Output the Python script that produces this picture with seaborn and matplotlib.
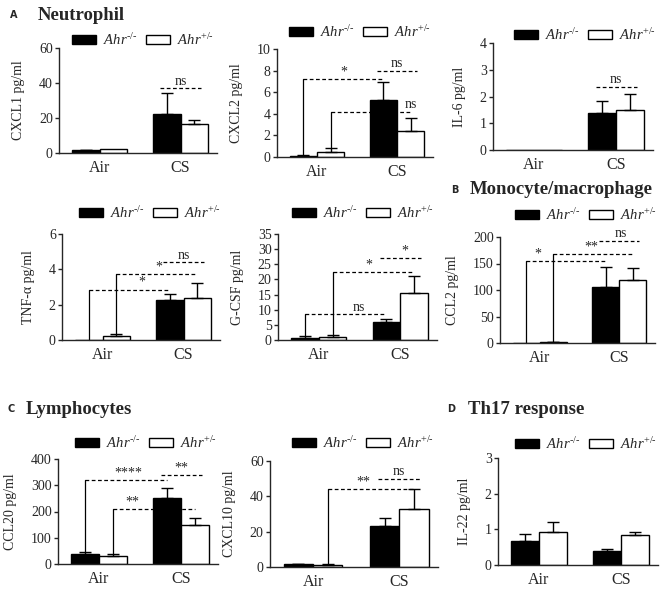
import numpy as np
import pandas as pd
import matplotlib
matplotlib.use("Agg")
import matplotlib.pyplot as plt
from matplotlib.patches import Patch
import seaborn as sns

sns.set_style("ticks")
plt.rcParams["font.family"] = ["Liberation Serif", "DejaVu Serif"]
plt.rcParams["mathtext.fontset"] = "custom"
plt.rcParams["mathtext.it"] = "Liberation Serif:italic"
plt.rcParams["mathtext.rm"] = "Liberation Serif"

exposures = ["Air", "CS"]
genotypes = ["KO", "Het"]
legend_labels = [r"$Ahr^{\text{-/-}}$", r"$Ahr^{\text{+/-}}$"]

# bar order in every list: Air KO, Air Het, CS KO, CS Het
cxcl1_mean = [1.5, 2.0, 22.0, 16.5]
cxcl1_sem = [0.4, 0.0, 12.0, 2.5]
cxcl2_mean = [0.1, 0.5, 5.3, 2.4]
cxcl2_sem = [0.1, 0.3, 1.6, 1.2]
il6_mean = [0.0, 0.0, 1.38, 1.5]
il6_sem = [0.0, 0.0, 0.44, 0.6]
tnf_mean = [0.0, 0.2, 2.25, 2.4]
tnf_sem = [0.0, 0.15, 0.35, 0.85]
gcsf_mean = [0.5, 1.1, 6.0, 15.5]
gcsf_sem = [0.7, 0.7, 1.0, 5.5]
ccl2_mean = [0.0, 1.5, 105.0, 118.0]
ccl2_sem = [0.0, 0.5, 38.0, 24.0]
ccl20_mean = [38.0, 30.0, 252.0, 150.0]
ccl20_sem = [7.0, 7.0, 36.0, 25.0]
cxcl10_mean = [1.5, 1.2, 23.0, 33.0]
cxcl10_sem = [0.3, 0.3, 5.0, 11.0]
il22_mean = [0.67, 0.92, 0.40, 0.83]
il22_sem = [0.21, 0.28, 0.06, 0.09]

# significance brackets: (from bar, to bar, level, label, label position along line)
cxcl1_sig = [(2, 3, 37, "ns", 0.5)]
cxcl2_sig = [(0, 2, 7.2, "*", 0.5), (2, 3, 8.0, "ns", 0.5), (1, 3, 4.2, "ns", 1.0)]
il6_sig = [(2, 3, 2.35, "ns", 0.5)]
tnf_sig = [(0, 2, 2.85, "*", 0.65), (1, 3, 3.75, "*", 0.52), (2, 3, 4.4, "ns", 0.5)]
gcsf_sig = [(0, 2, 8.5, "ns", 0.66), (1, 3, 22.5, "*", 0.45), (2, 3, 27, "*", 0.6)]
ccl2_sig = [(0, 2, 155, "*", 0.14), (1, 3, 168, "**", 0.48), (2, 3, 193, "ns", 0.55)]
ccl20_sig = [(0, 2, 320, "****", 0.53), (1, 3, 208, "**", 0.23), (2, 3, 340, "**", 0.5)]
cxcl10_sig = [(1, 3, 44, "**", 0.41), (2, 3, 50, "ns", 0.5)]
il22_sig = []

W, H = 669, 598
fig = plt.figure(figsize=(W / 100, H / 100), dpi=100)


def draw_panel(box, mean, sem, ylabel, yticks, brackets, legend_xy):
    left, top, right, bottom = box
    ax = fig.add_axes([left / W, 1 - bottom / H, (right - left) / W, (bottom - top) / H])
    df = pd.DataFrame({"exposure": np.repeat(exposures, 2),
                       "genotype": genotypes * 2,
                       "value": mean})
    sns.barplot(data=df, x="exposure", y="value", hue="genotype",
                order=exposures, hue_order=genotypes,
                palette={"KO": "black", "Het": "white"}, saturation=1,
                edgecolor="black", linewidth=1.0, width=0.68,
                errorbar=None, legend=False, ax=ax)

    xs = []
    for e in range(2):
        for g in range(2):
            p = ax.containers[g][e]
            xs.append(p.get_x() + p.get_width() / 2)
    xs = np.array(xs)
    m = np.array(mean)
    s = np.array(sem)
    keep = s > 0
    ax.errorbar(xs[keep], m[keep], yerr=[np.zeros(keep.sum()), s[keep]],
                fmt="none", ecolor="black", elinewidth=1.0, capsize=4, capthick=1.0)

    for i, j, level, text, frac in brackets:
        x1, x2 = xs[i], xs[j]
        if i < 2 <= j:
            ax.plot([x1, x1], [m[i] + s[i], level], color="black", lw=0.9, clip_on=False)
        else:
            x1 -= 0.08
            x2 += 0.08
        ax.plot([x1, x2], [level, level], color="black", lw=0.9,
                ls=(0, (3, 2)), clip_on=False)
        ax.annotate(text, (x1 + frac * (x2 - x1), level), xytext=(0, 0.5),
                    textcoords="offset points", ha="center", va="bottom", fontsize=10)

    ax.set_xlim(-0.5, 1.45)
    ax.set_ylim(0, yticks[-1])
    ax.set_yticks(yticks)
    ax.set_xlabel("")
    ax.set_ylabel(ylabel, fontsize=10, labelpad=10)
    ax.tick_params(axis="x", length=0, pad=5, labelsize=11.5)
    ax.tick_params(axis="y", length=3, width=1, pad=1.5, labelsize=10)
    for side in ["top", "right"]:
        ax.spines[side].set_visible(False)
    for side in ["left", "bottom"]:
        ax.spines[side].set_linewidth(1.0)

    handles = [Patch(facecolor="black", edgecolor="black", lw=1),
               Patch(facecolor="white", edgecolor="black", lw=1)]
    ax.legend(handles, legend_labels, loc="center",
              bbox_to_anchor=(legend_xy[0] / W, 1 - legend_xy[1] / H),
              bbox_transform=fig.transFigure, ncol=2, frameon=False, fontsize=10.5,
              handlelength=1.6, handleheight=0.6, handletextpad=0.5,
              columnspacing=0.6, borderpad=0, borderaxespad=0)
    return ax


draw_panel((59, 48, 217, 153), cxcl1_mean, cxcl1_sem, "CXCL1 pg/ml", [0, 20, 40, 60], cxcl1_sig, (143, 40))
draw_panel((277, 49, 433, 157), cxcl2_mean, cxcl2_sem, "CXCL2 pg/ml", [0, 2, 4, 6, 8, 10], cxcl2_sig, (360, 32))
draw_panel((493, 43, 653, 150), il6_mean, il6_sem, "IL-6 pg/ml", [0, 1, 2, 3, 4], il6_sig, (585, 35))
draw_panel((62, 234, 220, 340), tnf_mean, tnf_sem, "TNF-α pg/ml", [0, 2, 4, 6], tnf_sig, (150, 213))
draw_panel((278, 234, 437, 340), gcsf_mean, gcsf_sem, "G-CSF pg/ml", [0, 5, 10, 15, 20, 25, 30, 35], gcsf_sig, (363, 213))
draw_panel((500, 237, 655, 343), ccl2_mean, ccl2_sem, "CCL2 pg/ml", [0, 50, 100, 150, 200], ccl2_sig, (586, 215))
draw_panel((58, 459, 218, 564), ccl20_mean, ccl20_sem, "CCL20 pg/ml", [0, 100, 200, 300, 400], ccl20_sig, (146, 443))
draw_panel((270, 461, 438, 567), cxcl10_mean, cxcl10_sem, "CXCL10 pg/ml", [0, 20, 40, 60], cxcl10_sig, (363, 443))
draw_panel((498, 458, 658, 565), il22_mean, il22_sem, "IL-22 pg/ml", [0, 1, 2, 3], il22_sig, (586, 444))

# section headings
for letter, lx, title, tx, y in [("A", 10, "Neutrophil", 38, 15),
                                 ("B", 451, "Monocyte/macrophage", 470, 190),
                                 ("C", 8, "Lymphocytes", 26, 409),
                                 ("D", 447, "Th17 response", 468, 409)]:
    fig.text(lx / W, 1 - y / H, letter, fontsize=7, fontweight="bold",
             family="DejaVu Sans", va="center", ha="left")
    fig.text(tx / W, 1 - y / H, title, fontsize=13.5, fontweight="bold",
             va="center", ha="left")

fig.savefig("out.png", dpi=100)
